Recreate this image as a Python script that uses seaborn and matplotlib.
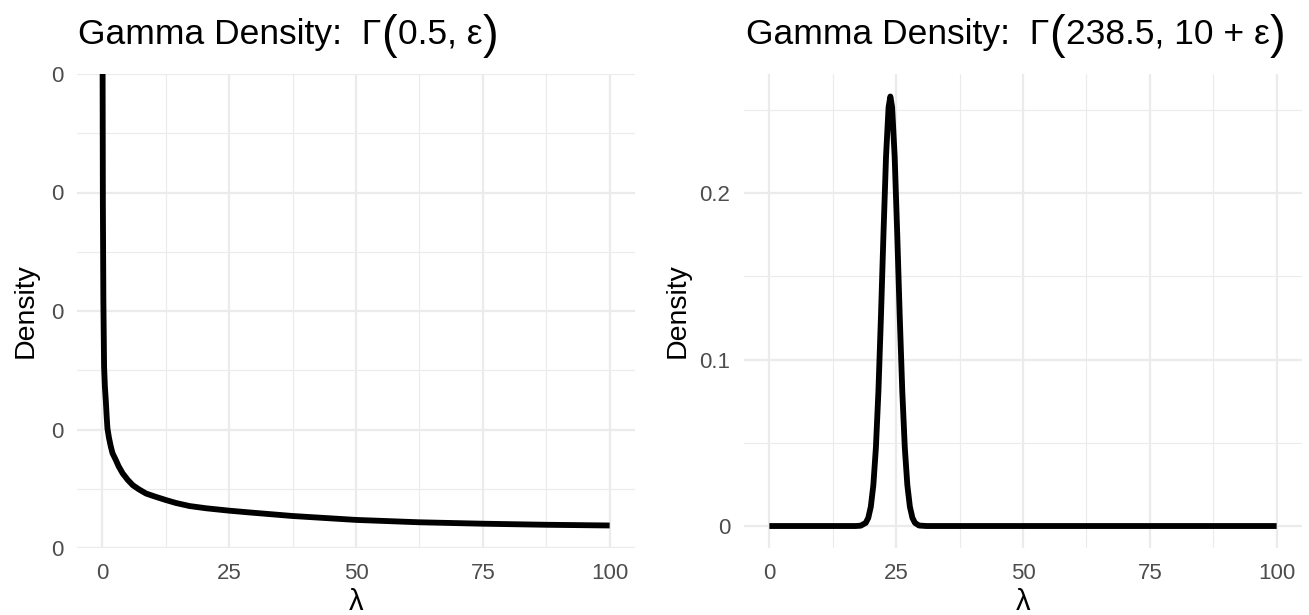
import numpy as np
import pandas as pd
import matplotlib
matplotlib.use("Agg")
import matplotlib.pyplot as plt
import matplotlib.transforms as mtransforms
import seaborn as sns

# ---- data ----
left_lambda = [0.02, 0.1, 0.2, 0.34, 0.5, 0.67, 0.85, 1.0, 1.3, 1.67, 2.0, 2.65, 3.2, 4.0,
               5.0, 6.0, 7.2, 8.6, 10.3, 12.5, 14.5, 17.2, 20.5, 25.0, 29.0, 37.5, 50.0,
               62.5, 75.0, 87.5, 100.0]
left_density = [4.6, 2.9, 2.09, 1.53, 1.36, 1.25, 1.11, 1.01, 0.93, 0.855, 0.80, 0.743,
                0.69, 0.63, 0.575, 0.53, 0.495, 0.46, 0.435, 0.405, 0.38, 0.354, 0.335,
                0.315, 0.30, 0.27, 0.237, 0.217, 0.205, 0.196, 0.19]

right_lambda = [0.0, 10.0, 17.0, 18.0, 19.0, 19.5, 20.0, 20.5, 21.0, 21.5, 22.0, 22.5,
                23.0, 23.5, 23.85, 24.2, 24.7, 25.2, 25.7, 26.2, 26.7, 27.2, 27.7,
                28.2, 28.7, 29.5, 31.0, 50.0, 75.0, 100.0]
right_density = [0.0, 0.0, 0.0, 0.0002, 0.0019, 0.0049, 0.0116, 0.0246, 0.047, 0.081,
                 0.126, 0.176, 0.222, 0.2515, 0.258, 0.2515, 0.222, 0.176, 0.126, 0.081,
                 0.047, 0.0246, 0.0116, 0.0049, 0.0019, 0.0003, 0.0, 0.0, 0.0, 0.0]

x_ticks = [0, 25, 50, 75, 100]
x_minor = [12.5, 37.5, 62.5, 87.5]
left_y_ticks = [0, 1, 2, 3, 4]
left_y_minor = [0.5, 1.5, 2.5, 3.5]
left_y_labels = ["0", "0", "0", "0", "0"]
right_y_ticks = [0, 0.1, 0.2]
right_y_minor = [0.05, 0.15, 0.25]
right_y_labels = ["0", "0.1", "0.2"]

left_title = [("Gamma Density:  Γ", False), ("(", True), ("0.5, ε", False), (")", True)]
right_title = [("Gamma Density:  Γ", False), ("(", True), ("238.5, 10 + ε", False), (")", True)]

sns.set_theme(style="white")
plt.rcParams['font.family'] = ['Liberation Sans', 'DejaVu Sans']

W, H = 1309, 615
fig = plt.figure(figsize=(W / 100, H / 100), dpi=100)

def px_axes(x0, y0, x1, y1):
    return fig.add_axes([x0 / W, 1 - y1 / H, (x1 - x0) / W, (y1 - y0) / H])

ax1 = px_axes(77, 74, 635, 548)
ax2 = px_axes(744, 74, 1302, 548)

df_left = pd.DataFrame({"lam": left_lambda, "dens": left_density})
df_right = pd.DataFrame({"lam": right_lambda, "dens": right_density})

sns.lineplot(data=df_left, x="lam", y="dens", ax=ax1, color="black", lw=4.2,
             sort=False, estimator=None, solid_capstyle="butt", solid_joinstyle="round")
sns.lineplot(data=df_right, x="lam", y="dens", ax=ax2, color="black", lw=4.2,
             sort=False, estimator=None, solid_capstyle="butt", solid_joinstyle="round")

grid_c = "#EBEBEB"
for ax in (ax1, ax2):
    ax.set_xlim(-5, 105)
    ax.set_xticks(x_ticks)
    ax.set_xticks(x_minor, minor=True)
    ax.set_xticklabels([str(v) for v in x_ticks])
    for s in ax.spines.values():
        s.set_visible(False)
    ax.set_facecolor("white")
    ax.grid(True, which="major", color=grid_c, lw=1.6)
    ax.grid(True, which="minor", color=grid_c, lw=0.8)
    ax.set_axisbelow(True)
    ax.tick_params(which="both", length=0)
    ax.tick_params(axis="x", labelsize=16, labelcolor="#4D4D4D", pad=11)
    ax.tick_params(axis="y", labelsize=16, labelcolor="#4D4D4D", pad=10)
    ax.set_xlabel("λ", fontsize=21, color="black", labelpad=3)

ax1.set_ylabel("Density", fontsize=20.5, color="black", labelpad=9)
ax2.set_ylabel("Density", fontsize=20.5, color="black", labelpad=6)

ax1.set_ylim(0, 4)
ax1.set_yticks(left_y_ticks)
ax1.set_yticks(left_y_minor, minor=True)
ax1.set_yticklabels(left_y_labels)

ax2.set_ylim(-0.0132, 0.2715)
ax2.set_yticks(right_y_ticks)
ax2.set_yticks(right_y_minor, minor=True)
ax2.set_yticklabels(right_y_labels)

# titles composed from pieces (larger parentheses)
fig.canvas.draw()
renderer = fig.canvas.get_renderer()
ident = mtransforms.IdentityTransform()

def draw_title(x0, baseline_from_top, pieces, size=25.5, psize=34):
    x = x0
    yb = H - baseline_from_top
    for txt, big in pieces:
        t = fig.text(x, yb - (4 if big else 0), txt, fontsize=psize if big else size,
                     ha="left", va="baseline", transform=ident, color="black")
        bb = t.get_window_extent(renderer)
        x = bb.x1 + (1 if big else 0)

draw_title(78, 44, left_title)
draw_title(746, 44, right_title)

fig.savefig("out.png", dpi=100, facecolor="white")
